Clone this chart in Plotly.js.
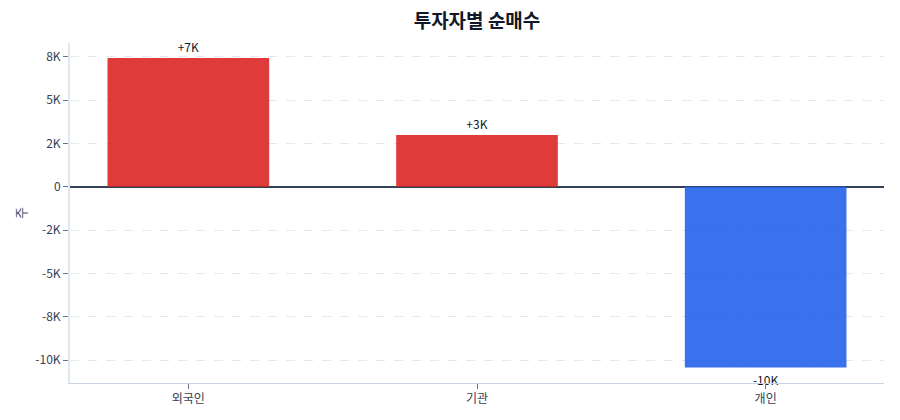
<!DOCTYPE html>
<html>
<head>
<meta charset="utf-8">
<script src="https://cdn.plot.ly/plotly-3.0.1.min.js"></script>
<style>
  html, body { margin: 0; padding: 0; background: #fff; }
  #chart { width: 900px; height: 420px; }
</style>
</head>
<body>
<div id="chart"></div>
<script>
// investor groups and their net buying (shares)
var investors = ['외국인', '기관', '개인'];
var netBuy = [7440, 2990, -10430];

var tickVals = [-10000, -7500, -5000, -2500, 0, 2500, 5000, 7500];
var tickText = ['-10K', '-8K', '-5K', '-2K', '0', '2K', '5K', '8K'];

var font = '"Noto Sans CJK KR", "Noto Sans", sans-serif';

// red for buying, blue for selling
var colors = netBuy.map(function(v) { return v >= 0 ? '#dc2626' : '#2563eb'; });
var labels = netBuy.map(function(v) {
  var k = Math.round(v / 1000);
  return (v >= 0 ? '+' : '') + k + 'K';
});

var trace = {
  type: 'bar',
  x: investors,
  y: netBuy,
  width: 0.56,
  marker: { color: colors, opacity: 0.9 },
  text: labels,
  textposition: 'outside',
  textfont: { family: font, size: 12, color: '#111827' },
  cliponaxis: false,
  hoverinfo: 'none'
};

var layout = {
  width: 900,
  height: 420,
  margin: { l: 70, r: 16, t: 43, b: 37 },
  paper_bgcolor: '#fff',
  plot_bgcolor: '#fff',
  font: { family: font, size: 12, color: '#475569' },
  title: {
    text: '<b>투자자별 순매수</b>',
    x: 0.5, xref: 'paper',
    y: 0.948, yanchor: 'middle',
    font: { family: font, size: 19, color: '#111827' }
  },
  showlegend: false,
  xaxis: {
    range: [-0.41, 2.41],
    showline: true,
    linecolor: '#cbd5e1',
    linewidth: 1,
    ticks: 'outside',
    ticklen: 5,
    tickcolor: '#64748b',
    showgrid: false,
    tickfont: { family: font, size: 12, color: '#334155' }
  },
  yaxis: {
    title: { text: '주', font: { family: font, size: 13, color: '#475569' }, standoff: 6 },
    range: [-11320, 8300],
    tickvals: tickVals,
    ticktext: tickText,
    showline: true,
    linecolor: '#e2e8f0',
    linewidth: 2,
    ticks: 'outside',
    ticklen: 5,
    tickcolor: '#64748b',
    showgrid: true,
    gridcolor: '#e5e7eb',
    griddash: 'dash',
    zeroline: true,
    zerolinecolor: '#334155',
    zerolinewidth: 1.5,
    tickfont: { family: font, size: 12, color: '#334155' }
  }
};

Plotly.newPlot('chart', [trace], layout, { displayModeBar: false, staticPlot: true });
</script>
</body>
</html>
